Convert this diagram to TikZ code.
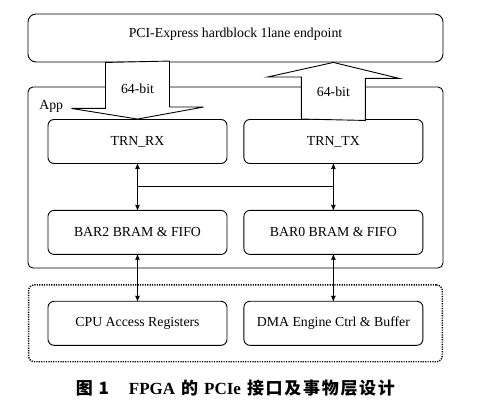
\documentclass[tikz,border=0pt]{standalone}
\usepackage{fontspec}
\setmainfont{Liberation Serif}
\newfontfamily\cjk[LetterSpace=10]{Noto Sans CJK SC}
\usepackage{tikz}
\usetikzlibrary{arrows,calc,fit}
\usetikzlibrary{positioning}
\tikzstyle{box} =
[
	draw,rectangle,rounded corners=6pt,line width=0.9pt,
	minimum width=179pt, minimum height=44pt, inner sep=2pt
]
\tikzstyle{appbox} =
[
	draw,rectangle,rounded corners=5pt,line width=0.9pt,
	minimum width=415pt, minimum height=181pt
]
\tikzstyle{dotbox} =
[
	draw,rectangle,rounded corners=6pt,line width=1.4pt,
	dash pattern=on 1.2pt off 1.2pt, inner xsep=19pt, inner ysep=16pt
]
\tikzstyle{fatarrow} =
[
	-,draw,fill=white,line width=0.9pt,line join=miter
]

\begin{document}
\begin{tikzpicture}[<->,>=stealth',semithick,line width=0.9pt,
	font=\fontsize{13.8pt}{16pt}\selectfont]

\useasboundingbox (0,0) rectangle (493pt,-406pt);

\node[appbox] (app) at (235.5pt,-177.5pt) {};
\node[anchor=west] (applabel) at ($(app.north west)+(8pt,-20pt)$) {App};

\node[box, minimum width=415pt, minimum height=48pt, rounded corners=8pt,
	text height=10pt, text depth=11pt] (pcie) at (235.5pt,-38pt) {PCI-Express hardblock 1lane endpoint};

\node[box] (trnrx) at (137.5pt,-141.5pt) {TRN\_RX};
\node[box] (trntx) [right=16pt of trnrx] {TRN\_TX};
\node[box] (bar2) [below=46pt of trnrx] {BAR2 BRAM \& FIFO};
\node[box] (bar0) [right=16pt of bar2] {BAR0 BRAM \& FIFO};
\node[box] (cpu) [below=46pt of bar2] {CPU Access Registers};
\node[box] (dma) [right=16pt of cpu] {DMA Engine Ctrl \& Buffer};

\node[dotbox, fit=(cpu)(dma)] (host) {};

\draw[fatarrow] ($(pcie.south -| trnrx.north)+(-32pt,0)$) -- ++(0,-46pt) -- ++(-34pt,0)
	-- (trnrx.north) -- ++(66pt,12pt) -- ++(-34pt,0) -- ++(0,46pt) -- cycle;
\draw[fatarrow] ($(trntx.north)+(-32pt,0)$) -- ++(0,42pt) -- ++(-34pt,0)
	-- (pcie.south -| trntx.north) -- ++(66pt,-16pt) -- ++(-34pt,0) -- ++(0,-42pt) -- cycle;

\node (rxwidth) at ($(pcie.south -| trnrx.north)+(0,-26pt)$) {64-bit};
\node (txwidth) at ($(trntx.north)+(0,27pt)$) {64-bit};

\coordinate (rxmid) at ($(trnrx.south)!0.5!(bar2.north)$);
\coordinate (txmid) at ($(trntx.south)!0.5!(bar0.north)$);

\path
	(trnrx) edge (bar2)
	(trntx) edge (bar0)
	(bar2) edge (cpu)
	(bar0) edge (dma);

\path
	(rxmid) edge[-] (txmid);

\node (caption) at ($(host.south)+(0pt,-26pt)$)
	{{\cjk\bfseries\fontsize{17pt}{19pt}\selectfont 图 1}\hspace{20pt}%
	 {\bfseries\fontsize{17pt}{19pt}\selectfont FPGA}\hspace{6pt}%
	 {\cjk\bfseries\fontsize{17pt}{19pt}\selectfont 的}\hspace{6pt}%
	 {\bfseries\fontsize{17pt}{19pt}\selectfont PCIe}\hspace{6pt}%
	 {\cjk\bfseries\fontsize{17pt}{19pt}\selectfont 接口及事物层设计}};

\end{tikzpicture}
\end{document}
